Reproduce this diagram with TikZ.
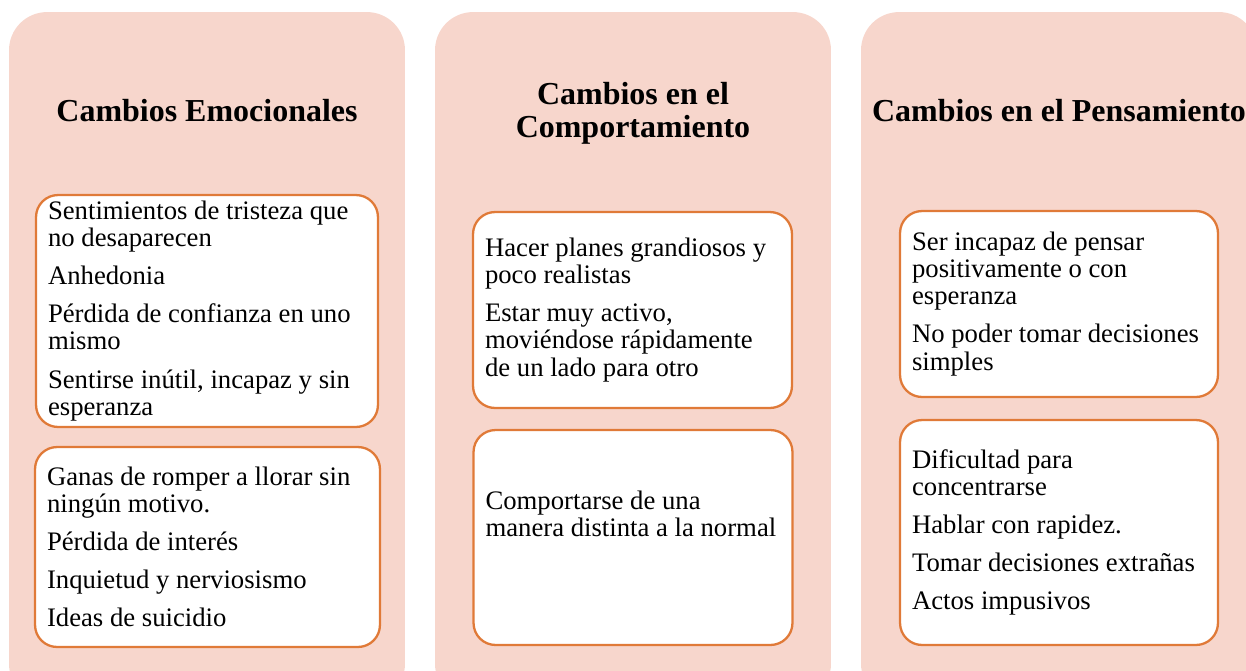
\documentclass[tikz,border=0pt]{standalone}
\usepackage{fontspec}
\setmainfont{Liberation Serif}
\definecolor{peach}{HTML}{F7D6CC}
\definecolor{rim}{HTML}{E07A38}
\begin{document}
\begin{tikzpicture}[x=0.02cm,y=-0.02cm,
		col/.style={fill=peach,rounded corners=0.76cm,minimum width=7.92cm,minimum height=13.8cm,inner sep=0pt},
		head/.style={font=\bfseries\fontsize{18.2}{18.6}\selectfont,align=center},
		box/.style 2 args={draw=rim,line width=1.3pt,fill=white,rounded corners=0.44cm,inner xsep=0.24cm,inner ysep=0pt,
			align=flush left,text width=#1,minimum height=#2,font=\fontsize{15.2}{15.4}\selectfont}]
		\clip (0,0) rectangle (1246,670);
		% columns
		\foreach \i/\j in {emo/207,comp/633,pens/1059}\node[col] (\i) at (\j,357) {};
		\node[head] (emoH) at (emo|-0,111) {Cambios Emocionales};
		\node[head] (compH) at (comp|-0,113) {Cambios en el\\Comportamiento};
		\node[head] (pensH) at (pens|-0,111) {Cambios en el Pensamiento};
		% boxes
		\node[box={6.36cm}{4.64cm}] (E1) at (207,311) {Sentimientos de tristeza que\\no desaparecen\\[0.22cm]Anhedonia\\[0.22cm]Pérdida de confianza en uno\\mismo\\[0.22cm]Sentirse inútil, incapaz y sin\\esperanza};
		\node[box={6.42cm}{4cm}] (E2) at (207.5,547) {Ganas de romper a llorar sin\\ningún motivo.\\[0.22cm]Pérdida de interés\\[0.22cm]Inquietud y nerviosismo\\[0.22cm]Ideas de suicidio};
		\node[box={5.9cm}{3.92cm}] (C1) at (632.5,310) {Hacer planes grandiosos y\\poco realistas\\[0.22cm]Estar muy activo,\\moviéndose rápidamente\\de un lado para otro};
		\node[box={5.9cm}{4.3cm}] (C2) at (633,537.5) {Comportarse de una\\manera distinta a la normal\\[0.26cm]\strut};
		\node[box={5.88cm}{3.72cm}] (P1) at (1059,304) {Ser incapaz de pensar\\positivamente o con\\esperanza\\[0.22cm]No poder tomar decisiones\\simples};
		\node[box={5.88cm}{4.5cm}] (P2) at (1059,532.5) {Dificultad para\\concentrarse\\[0.22cm]Hablar con rapidez.\\[0.22cm]Tomar decisiones extrañas\\[0.22cm]Actos impusivos};
	\end{tikzpicture}
\end{document}
